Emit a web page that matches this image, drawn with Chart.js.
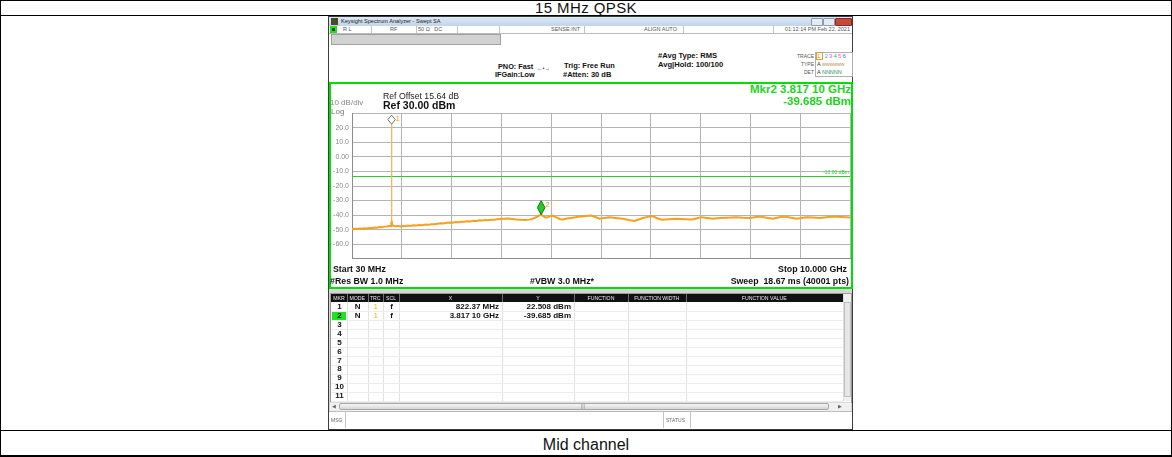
<!DOCTYPE html>
<html lang="en">
<head>
<meta charset="UTF-8" />
<title>15 MHz QPSK - Mid channel</title>
<script src="https://cdn.jsdelivr.net/npm/chart.js"></script>
<style>
  body { margin:0; width:1172px; height:457px; position:relative; overflow:hidden; background:#fff;
         font-family:"Liberation Sans", Arial, sans-serif; color:#111; }
  .a { position:absolute; white-space:nowrap; }
  .b { font-weight:bold; }
  .t { line-height:10px; }
  .g { color:#1fd41f; }
  .sep { position:absolute; width:1px; background:#c4c4c4; }
  canvas { position:absolute; left:328px; top:106px; }
</style>
</head>
<body>
  <!-- outer table -->
  <div class="a" style="left:0;top:0;width:1170px;height:454px;border:1px solid #000;border-bottom-width:2px;"></div>
  <div class="a" style="left:0;top:15px;width:1172px;height:1px;background:#000"></div>
  <div class="a" style="left:0;top:430px;width:1172px;height:1px;background:#000"></div>
  <div class="a" style="left:0;top:0.3px;width:1172px;height:15px;line-height:15px;text-align:center;font-size:15px;letter-spacing:0.4px">15 MHz QPSK</div>
  <div class="a" style="left:0;top:433px;width:1172px;height:22px;line-height:24px;text-align:center;font-size:16px">Mid channel</div>

  <!-- analyzer window -->
  <div class="a" style="left:328px;top:16px;width:523px;height:412px;border:1px solid #3c3c3c;background:#d6d6d6"></div>
  <div class="a" style="left:329px;top:17px;width:523px;height:9px;background:linear-gradient(#dde8f5,#c2d4ea)"></div>
  <div class="a" style="left:331px;top:18px;width:7px;height:7px;background:#4a4a2a"></div>
  <div class="a" style="left:341px;top:17px;line-height:9px;font-size:5.6px;color:#222">Keysight Spectrum Analyzer - Swept SA</div>
  <div class="a" style="left:811px;top:18px;width:10px;height:6px;background:#e4ebf3;border:1px solid #8a9ab0;border-radius:1px"></div>
  <div class="a" style="left:823px;top:18px;width:10px;height:6px;background:#e4ebf3;border:1px solid #8a9ab0;border-radius:1px"></div>
  <div class="a" style="left:835px;top:18px;width:15px;height:6px;background:#c9483c;border:1px solid #8a2a22;border-radius:1px"></div>

  <!-- status row -->
  <div class="a" style="left:329px;top:26px;width:523px;height:7px;background:#fff;border-bottom:1px solid #bbb"></div>
  <div class="a" style="left:330px;top:26px;width:7px;height:7px;background:#22dd22"></div>
  <div class="a" style="left:332px;top:28px;width:3px;height:3px;background:#225522"></div>
  <div class="a" style="left:343px;top:26px;line-height:7px;font-size:5.5px;color:#555">R L</div>
  <div class="a" style="left:390px;top:26px;line-height:7px;font-size:5.5px;color:#555">RF</div>
  <div class="a" style="left:418px;top:26px;line-height:7px;font-size:5.5px;color:#555">50 &Omega;&nbsp;&nbsp;&nbsp;DC</div>
  <div class="a" style="left:551px;top:26px;line-height:7px;font-size:5.5px;color:#555">SENSE:INT</div>
  <div class="a" style="left:644px;top:26px;line-height:7px;font-size:5.5px;color:#555">ALIGN AUTO</div>
  <div class="a" style="right:322px;top:26px;line-height:7px;font-size:5.5px;color:#555">01:12:14 PM Feb 22, 2021</div>
  <div class="sep" style="left:371px;top:26px;height:7px"></div>
  <div class="sep" style="left:416px;top:26px;height:7px"></div>
  <div class="sep" style="left:457px;top:26px;height:7px"></div>
  <div class="sep" style="left:499px;top:26px;height:7px"></div>
  <div class="sep" style="left:584px;top:26px;height:7px"></div>
  <div class="sep" style="left:683px;top:26px;height:7px"></div>
  <div class="sep" style="left:773px;top:26px;height:7px"></div>

  <!-- settings area -->
  <div class="a" style="left:329px;top:34px;width:523px;height:48px;background:#fff"></div>
  <div class="a" style="left:331px;top:34px;width:168px;height:9px;background:#d2d2d2;border:1px solid #a0a0a0"></div>
  <div class="a b t" style="left:498px;top:62px;font-size:7.3px">PNO: Fast</div>
  <div class="a b t" style="left:495px;top:70px;font-size:7.3px">IFGain:Low</div>
  <div class="a t" style="left:537px;top:63px;font-size:5.5px;color:#333">&larr;&bull;&rarr;</div>
  <div class="a b t" style="left:564px;top:61px;font-size:7.5px">Trig: Free Run</div>
  <div class="a b t" style="left:563px;top:70px;font-size:7.5px">#Atten: 30 dB</div>
  <div class="a b t" style="left:658px;top:51px;font-size:7.6px">#Avg Type: RMS</div>
  <div class="a b t" style="left:658px;top:60px;font-size:7.6px">Avg|Hold: 100/100</div>
  <div class="a t" style="right:358px;top:51px;font-size:5px;color:#555">TRACE</div>
  <div class="a t" style="right:358px;top:59px;font-size:5px;color:#555">TYPE</div>
  <div class="a t" style="right:358px;top:67px;font-size:5px;color:#555">DET</div>
  <div class="a" style="left:815px;top:52px;width:36px;height:23px;border:1px solid #b0b0b0;background:#fff"></div>
  <div class="a t" style="left:817px;top:51px;font-size:6px;letter-spacing:1.2px">
    <span style="color:#d8a800;outline:1px solid #e0a030">1</span> <span style="color:#20b0ff">2</span><span style="color:#ff40ff">3</span><span style="color:#40b040">4</span><span style="color:#ff60a0">5</span><span style="color:#6060ff">6</span></div>
  <div class="a t" style="left:817px;top:59px;font-size:5.5px;color:#333">A <span style="color:#b08030;font-size:4px">WWWWWW</span></div>
  <div class="a t" style="left:817px;top:67px;font-size:5.5px;color:#333">A <span style="color:#1a9a5a">NNNNN</span></div>

  <!-- plot region -->
  <div class="a" style="left:329px;top:82px;width:520px;height:203px;border:2px solid #00e000;background:#fff"></div>
  <canvas id="sa" width="525" height="160"></canvas>
  <div class="a b g" style="right:321px;top:83px;line-height:13px;font-size:11.5px">Mkr2 3.817 10 GHz</div>
  <div class="a b g" style="right:321px;top:95px;line-height:13px;font-size:11.5px">-39.685 dBm</div>
  <div class="a t" style="left:383px;top:91px;font-size:8.7px;color:#222">Ref Offset 15.64 dB</div>
  <div class="a b t" style="left:383px;top:100px;font-size:10.5px">Ref 30.00 dBm</div>
  <div class="a" style="left:330px;top:100px;line-height:6px;font-size:8px;color:#888">10 dB/div</div>
  <div class="a" style="left:331px;top:108.5px;line-height:6px;font-size:8px;color:#777">Log</div>
  <div class="a b t" style="left:333px;top:264px;font-size:8.8px">Start 30 MHz</div>
  <div class="a b t" style="right:325px;top:264px;font-size:8.8px">Stop 10.000 GHz</div>
  <div class="a b t" style="left:330px;top:276px;font-size:8.8px">#Res BW 1.0 MHz</div>
  <div class="a b t" style="left:530px;top:276px;font-size:8.8px">#VBW 3.0 MHz*</div>
  <div class="a b t" style="right:323px;top:276px;font-size:8.8px">Sweep&nbsp;&nbsp;18.67 ms (40001 pts)</div>

  <!-- marker table frame -->
  <div class="a" style="left:330px;top:293px;width:520px;height:108px;background:#fff;border:1px solid #9a9a9a"></div>
  <div class="a" style="left:331px;top:294px;width:512px;height:8px;background:#111"></div>
  <div class="a" style="left:843px;top:294px;width:7px;height:107px;background:#f0f0f0;border-left:1px solid #ddd"></div>
  <div class="a" style="left:844px;top:302px;width:5px;height:93px;background:#e6e6e6;border:1px solid #c0c0c0"></div>
  <div class="a" style="left:330px;top:402px;width:521px;height:8px;background:#f0f0f0;border-top:1px solid #ddd"></div>
  <div class="a" style="left:339px;top:403px;width:488px;height:5px;background:linear-gradient(#f6f6f6,#d6d6d6);border:1px solid #a8a8a8;border-radius:2px"></div>
  <div class="a" style="left:332px;top:401px;line-height:10px;font-size:5px;color:#666">&#9664;</div>
  <div class="a" style="left:838px;top:401px;line-height:10px;font-size:5px;color:#666">&#9654;</div>
  <div class="a" style="left:581px;top:401px;line-height:10px;font-size:5px;color:#888">|||</div>

  <!-- message bar -->
  <div class="a" style="left:329px;top:411px;width:523px;height:17px;background:#fff;border-top:1px solid #bbb"></div>
  <div class="a" style="left:331px;top:415px;line-height:10px;font-size:5px;color:#666">MSG</div>
  <div class="sep" style="left:345px;top:412px;height:16px"></div>
  <div class="sep" style="left:663px;top:412px;height:16px"></div>
  <div class="sep" style="left:690px;top:412px;height:16px"></div>
  <div class="a" style="left:666px;top:415px;line-height:10px;font-size:5px;color:#666">STATUS</div>

<script>
// sweep: 30 MHz .. 10 GHz, ref 30 dBm, 10 dB/div
const xGridMHz = [30, 1027, 2024, 3021, 4018, 5015, 6012, 7009, 8006, 9003, 10000];
const yTicks = [-70, -60, -50, -40, -30, -20, -10, 0, 10, 20, 30];
const yTickLabels = ['', '-60.0', '-50.0', '-40.0', '-30.0', '-20.0', '-10.0', '0.00', '10.0', '20.0', ''];

// trace 1 (MHz, dBm)
const traceFreqMHz = [
  30, 80, 130, 180, 230, 280, 330, 380, 430, 480, 530, 580, 630, 680, 730, 780,
  812, 818, 822.37, 826, 832,
  860, 900, 950, 1000, 1050, 1100, 1150, 1200, 1260, 1320, 1380, 1440, 1500, 1560, 1620, 1680,
  1740, 1800, 1860, 1920, 1980, 2040, 2100, 2160, 2220, 2280, 2340, 2400, 2460, 2520, 2580, 2640,
  2700, 2760, 2820, 2880, 2940, 3000,
  3080, 3160, 3240, 3320, 3400, 3500, 3580, 3660, 3740, 3817.1, 3870, 3916, 3980, 4048,
  4120, 4200, 4249, 4340, 4449, 4560, 4680, 4818, 4900, 4985, 5080, 5185, 5300, 5452,
  5570, 5687, 5770, 5854, 5950, 6042, 6130, 6223, 6370, 6524, 6690, 6850, 6940, 7025,
  7140, 7252, 7390, 7526, 7627, 7727, 7860, 7994, 8094, 8194, 8330, 8461, 8560, 8662,
  8800, 8931, 9030, 9131, 9260, 9398, 9530, 9659, 9830, 10000
];
const traceLevelDbm = [
  -49.6, -49.3, -49.5, -49.2, -49.4, -49.0, -49.2, -48.8, -48.9, -48.5, -48.6, -48.2, -48.3, -47.9, -47.8, -47.5,
  -47.4, -45.0, 22.508, -44.0, -46.8,
  -47.3, -47.6, -47.4, -47.8, -47.5, -47.6, -47.2, -47.4, -47.0, -47.2, -46.8, -46.9, -46.5, -46.6, -46.2, -46.3,
  -45.9, -45.6, -45.8, -45.3, -45.1, -45.3, -44.8, -44.9, -44.5, -44.6, -44.2, -44.3, -43.9, -44.0, -43.6, -43.7,
  -43.4, -43.5, -43.1, -43.2, -42.9, -42.7,
  -42.5, -42.4, -42.7, -43.0, -43.2, -43.3, -43.1, -42.3, -41.0, -39.685, -41.0, -41.8, -41.0, -40.3,
  -41.5, -42.8, -43.0, -42.3, -41.8, -41.2, -40.8, -40.3, -41.3, -42.5, -41.9, -41.4, -41.9, -42.5,
  -43.4, -44.0, -43.0, -42.0, -41.2, -40.7, -42.0, -43.2, -42.8, -42.5, -42.8, -43.0, -42.2, -41.4,
  -42.0, -42.5, -42.0, -41.8, -41.6, -41.4, -41.8, -42.0, -41.5, -41.0, -41.8, -42.5, -41.7, -40.9,
  -41.7, -42.5, -42.0, -41.4, -41.7, -42.0, -41.4, -40.9, -41.3, -41.6
];

// markers and display line
const markerFreqMHz = [822.37, 3817.1];
const markerLevelDbm = [22.508, -39.685];
const markerXText = ['822.37 MHz', '3.817 10 GHz'];
const markerYText = ['22.508 dBm', '-39.685 dBm'];
const displayLineDbm = -13;
const displayLineText = '-13.00 dBm';

const overlay = {
  id: 'overlay',
  beforeDatasetsDraw(chart) {
    const { ctx, chartArea: a, scales: { y } } = chart;
    const dy = Math.round(y.getPixelForValue(displayLineDbm)) + 0.5;
    ctx.save();
    ctx.strokeStyle = '#2ccc2c';
    ctx.lineWidth = 1;
    ctx.beginPath();
    ctx.moveTo(a.left, dy);
    ctx.lineTo(a.right, dy);
    ctx.stroke();
    ctx.fillStyle = '#2ccc2c';
    ctx.font = '5px "Liberation Sans"';
    ctx.textAlign = 'right';
    ctx.textBaseline = 'bottom';
    ctx.fillText(displayLineText, a.right - 1, dy - 1);
    ctx.restore();
  },
  afterDatasetsDraw(chart) {
    const { ctx, chartArea: a, scales: { x, y } } = chart;
    ctx.save();
    markerFreqMHz.forEach((f, i) => {
      const px = x.getPixelForValue(f);
      const py = y.getPixelForValue(markerLevelDbm[i]);
      const h = Math.min(14, py - a.top - 2);
      const w = 3.8;
      ctx.beginPath();
      ctx.moveTo(px, py - h);
      ctx.lineTo(px + w, py - h / 2);
      ctx.lineTo(px, py);
      ctx.lineTo(px - w, py - h / 2);
      ctx.closePath();
      if (i === markerFreqMHz.length - 1) {
        ctx.fillStyle = '#22cc22';
        ctx.strokeStyle = '#137013';
      } else {
        ctx.fillStyle = '#ffffff';
        ctx.strokeStyle = '#707070';
      }
      ctx.lineWidth = 1;
      ctx.fill();
      ctx.stroke();
      ctx.fillStyle = '#f0a020';
      ctx.font = '8px "Liberation Sans"';
      ctx.textAlign = 'left';
      ctx.textBaseline = 'middle';
      ctx.fillText(String(i + 1), px + 4, py - h + 4);
    });
    ctx.restore();
  }
};

// the carrier spike is drawn thinner and lighter, as on the screen
const isSpike = c => c.p0.parsed.y > -30 || c.p1.parsed.y > -30;

new Chart(document.getElementById('sa'), {
  type: 'line',
  data: {
    datasets: [{
      data: traceFreqMHz.map((f, i) => ({ x: f, y: traceLevelDbm[i] })),
      borderColor: '#f5a01e',
      borderWidth: 2,
      pointRadius: 0,
      tension: 0,
      fill: false,
      segment: {
        borderWidth: c => isSpike(c) ? 1 : 2,
        borderColor: c => isSpike(c) ? '#f7b553' : '#f5a01e'
      }
    }]
  },
  options: {
    responsive: false,
    animation: false,
    devicePixelRatio: 1,
    layout: { padding: { top: 6, right: 3, bottom: 3, left: 0 } },
    plugins: { legend: { display: false }, tooltip: { enabled: false } },
    scales: {
      x: {
        type: 'linear', min: 30, max: 10000,
        afterBuildTicks: s => { s.ticks = xGridMHz.map(v => ({ value: v })); },
        afterFit: s => { s.height = 0; },
        ticks: { display: false },
        grid: { color: '#b4b4b4', drawTicks: false },
        border: { display: true, color: '#8c8c8c' }
      },
      y: {
        min: -70, max: 30,
        afterBuildTicks: s => { s.ticks = yTicks.map(v => ({ value: v })); },
        afterFit: s => { s.width = 24; },
        ticks: {
          callback: v => yTickLabels[yTicks.indexOf(v)],
          font: { family: 'Liberation Sans', size: 7 },
          color: '#8a8a8a',
          padding: 3,
          autoSkip: false
        },
        grid: { color: '#b4b4b4', drawTicks: false },
        border: { display: true, color: '#8c8c8c' }
      }
    }
  },
  plugins: [overlay]
});

// marker table
function put(html, css) {
  const d = document.createElement('div');
  d.className = 'a';
  d.style.cssText = css;
  d.innerHTML = html;
  document.body.appendChild(d);
  return d;
}
const colEdges = [331, 347, 367.5, 383, 399, 502, 574, 628, 685.5, 843];
const colNames = ['MKR', 'MODE', 'TRC', 'SCL', 'X', 'Y', 'FUNCTION', 'FUNCTION WIDTH', 'FUNCTION VALUE'];
colNames.forEach((n, i) => {
  const l = colEdges[i], w = colEdges[i + 1] - l;
  put(n, `left:${l}px;top:294px;width:${w}px;line-height:8px;text-align:center;font-size:5.2px;color:#e8e8e8;`);
  if (i > 0) {
    put('', `left:${l}px;top:294px;width:1px;height:8px;background:#707070;`);
    put('', `left:${l}px;top:302px;width:1px;height:99px;background:#e2e2e2;`);
  }
});
put('', 'left:332px;top:312px;width:14px;height:8px;background:#22e022;');
for (let r = 1; r <= 11; r++) {
  const cy = 307 + (r - 1) * 8.91;
  put('', `left:331px;top:${(cy + 4.4).toFixed(1)}px;width:512px;height:1px;background:#ececec;`);
  const row = (txt, i, align, css) => {
    const l = colEdges[i], w = colEdges[i + 1] - l;
    put(txt, `left:${l}px;top:${(cy - 5).toFixed(1)}px;width:${w - 3}px;line-height:10px;text-align:${align};font-weight:bold;font-size:8px;${css || ''}`);
  };
  row(String(r), 0, 'center', 'padding-left:2px;');
  if (r <= markerFreqMHz.length) {
    row('N', 1, 'center', 'padding-left:2px;');
    row('1', 2, 'center', 'padding-left:2px;color:#e8c000;font-weight:normal;');
    row('f', 3, 'center', 'padding-left:2px;');
    row(markerXText[r - 1], 4, 'right');
    row(markerYText[r - 1], 5, 'right');
  }
}
</script>
</body>
</html>
